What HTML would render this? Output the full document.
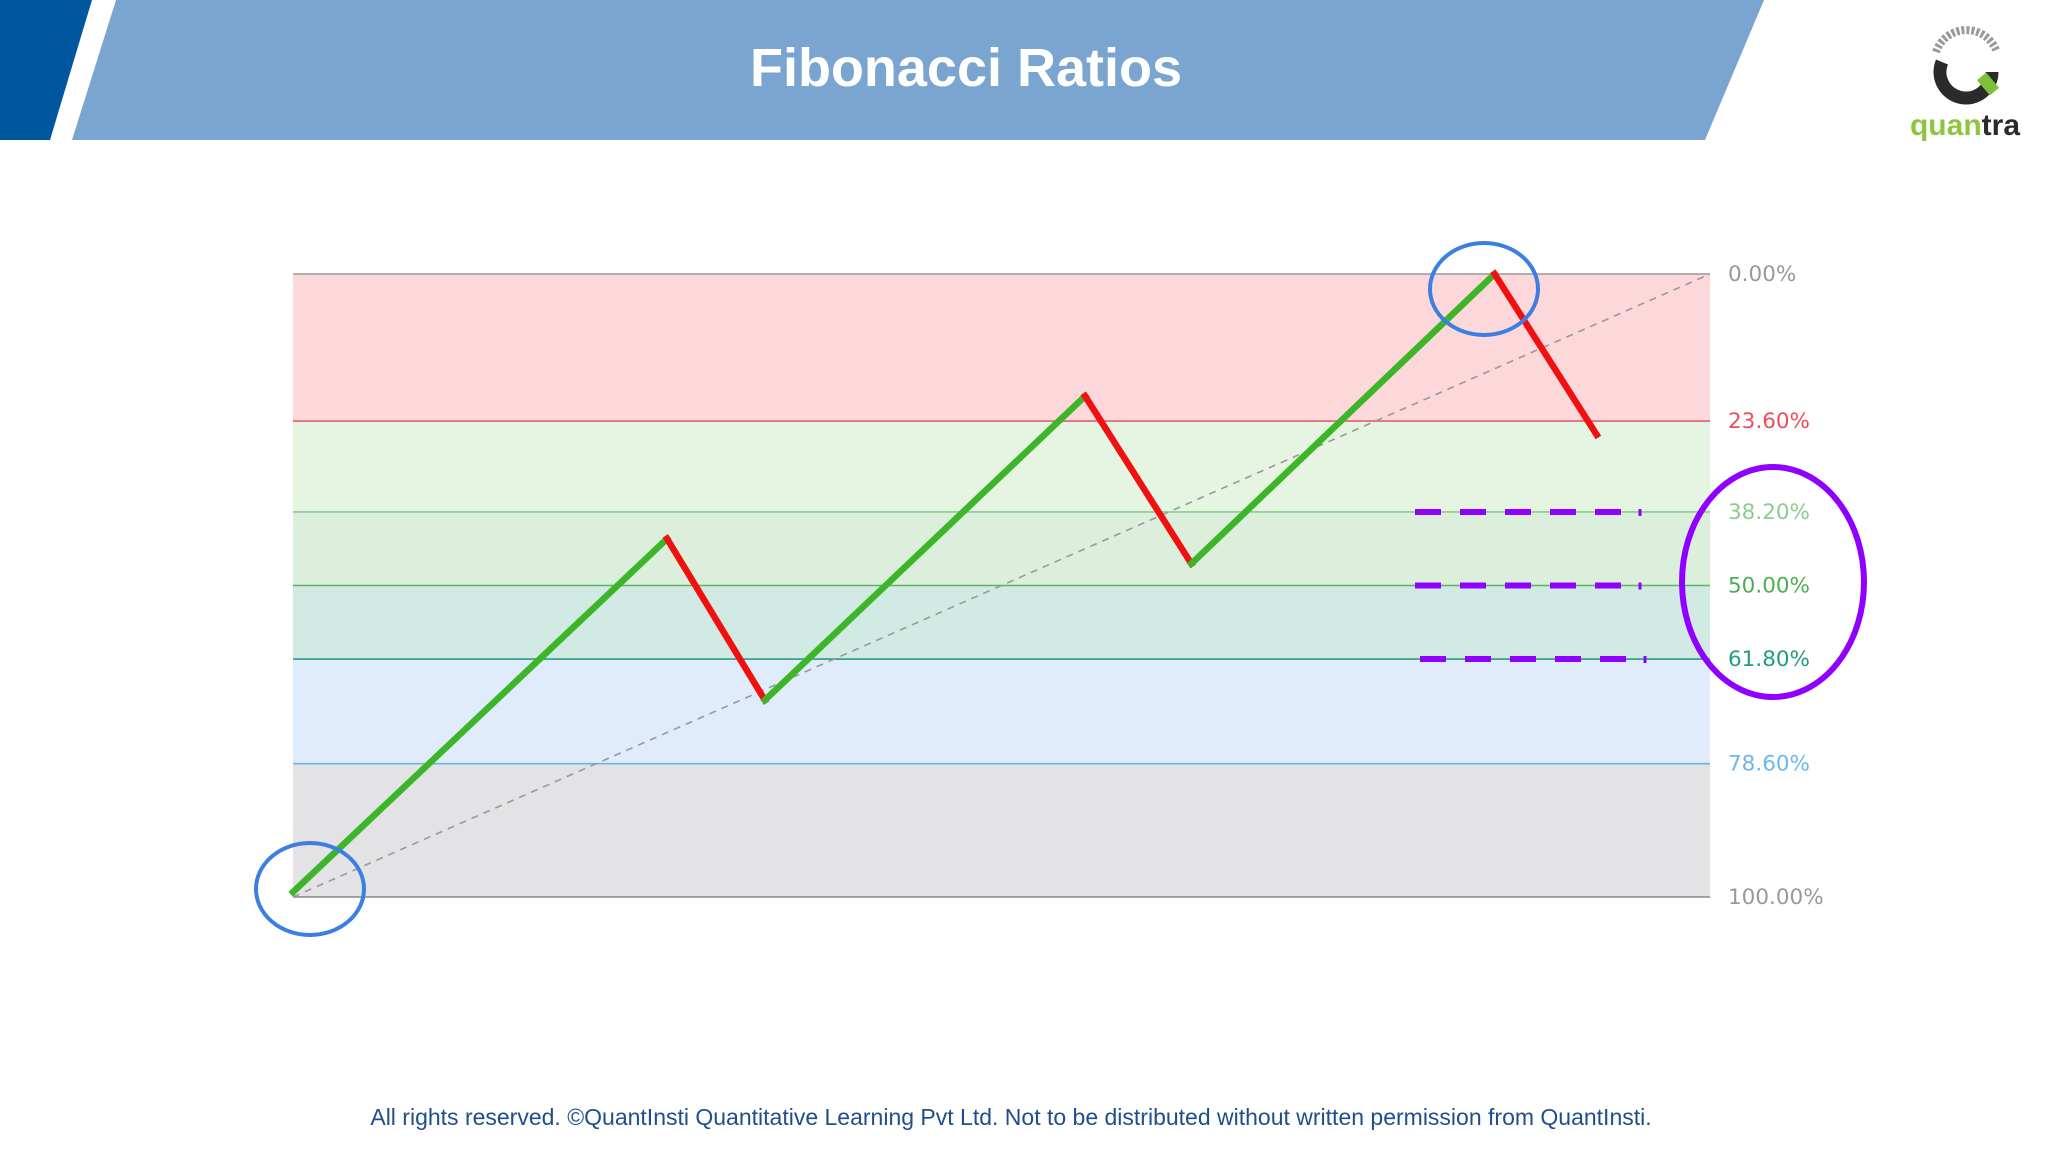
<!DOCTYPE html>
<html><head><meta charset="utf-8"><style>
html,body{margin:0;padding:0;background:#fff;}
body{width:2048px;height:1152px;overflow:hidden;position:relative;font-family:"Liberation Sans",sans-serif;}
</style></head><body>
<svg id="chart" width="2048" height="1152" viewBox="0 0 2048 1152" xmlns="http://www.w3.org/2000/svg">
  <polygon points="0,0 92,0 50,140 0,140" fill="#0057a0"/>
  <polygon points="116,0 1764,0 1705,140 72,140" fill="#7aa5d0"/>
  <text x="966" y="86" text-anchor="middle" font-family="Liberation Sans, sans-serif" font-weight="bold" font-size="54" fill="#fff">Fibonacci Ratios</text>
  <g>
    <path d="M1942,62 A26,26 0 1 0 1992,72" fill="none" stroke="#2b2b2b" stroke-width="13"/>
    <path d="M1936,52 A32,32 0 0 1 1996,50" fill="none" stroke="#999" stroke-width="8" stroke-dasharray="3 2"/>
    <rect x="1982" y="74" width="12" height="20" fill="#7fbf3a" transform="rotate(-40 1988 84)"/>
    <text x="1965" y="135" text-anchor="middle" font-family="Liberation Sans, sans-serif" font-weight="bold" font-size="30" fill="#8cc63f">quan<tspan fill="#2b2b2b">tra</tspan></text>
  </g>
  <g id="bands"></g>
  <g id="levels"></g>
  <g id="labels"></g>
  <line id="trend" stroke="#999" stroke-width="1.6" stroke-dasharray="7 6"/>
  <g id="price"></g>
  <g id="dashes"></g>
  <ellipse cx="310" cy="889" rx="54" ry="46" fill="none" stroke="#3d7fe0" stroke-width="4"/>
  <ellipse cx="1484" cy="289" rx="54" ry="46" fill="none" stroke="#3d7fe0" stroke-width="4"/>
  <ellipse cx="1773" cy="582" rx="91" ry="115" fill="none" stroke="#9000ff" stroke-width="6"/>
  <text x="1011" y="1125" text-anchor="middle" font-family="Liberation Sans, sans-serif" font-size="23" fill="#1f4e8c">All rights reserved. ©QuantInsti Quantitative Learning Pvt Ltd. Not to be distributed without written permission from QuantInsti.</text>
</svg>
<script>
const levelPct = [0, 23.6, 38.2, 50, 61.8, 78.6, 100];
const levelLabels = ["0.00%", "23.60%", "38.20%", "50.00%", "61.80%", "78.60%", "100.00%"];
const levelLineColors = ["#999", "#e06070", "#8fca8f", "#5fb35f", "#2a9d80", "#6ab4e8", "#888"];
const levelTextColors = ["#999", "#f04c5c", "#8fca8f", "#4caf50", "#1e9e80", "#6db6f0", "#999"];
const bandColors = ["#fdd8db", "#e6f4e2", "#dcefdc", "#d1eae3", "#e0ecfb", "#e3e3e6"];
const priceTime = [0, 26.4, 33.3, 55.9, 63.4, 84.8, 92];
const priceValue = [0.8, 57.5, 31.6, 80.4, 53.5, 100, 74.2];
const highlightLevels = [38.2, 50, 61.8];

const X0=293, X1=1710, YT=274, YB=897;
const xs = t => X0 + t*(X1-X0)/100;
const yPct = p => YT + p*(YB-YT)/100;
const yPrice = v => YB - v*(YB-YT)/100;
const NS="http://www.w3.org/2000/svg";
function mk(tag, parent, attrs){const e=document.createElementNS(NS,tag);for(const k in attrs)e.setAttribute(k,attrs[k]);parent.appendChild(e);return e;}

const bands=document.getElementById('bands');
for(let i=0;i<bandColors.length;i++){
  const r=mk('rect',bands,{x:X0,y:yPct(levelPct[i]),width:X1-X0,height:yPct(levelPct[i+1])-yPct(levelPct[i]),fill:bandColors[i]});
  
  
}
const lv=document.getElementById('levels'), lb=document.getElementById('labels');
levelPct.forEach((p,i)=>{
  const l=mk('line',lv,{x1:X0,x2:X1,y1:yPct(p),y2:yPct(p),stroke:levelLineColors[i],'stroke-width':1.6});
  
  
  const t=mk('text',lb,{x:1728,y:yPct(p)+7,'font-size':21.5,fill:levelTextColors[i],'font-family':'DejaVu Sans, sans-serif'});
  t.textContent=levelLabels[i];
  
  
});
const tr=document.getElementById('trend');
tr.setAttribute('x1',X0);tr.setAttribute('y1',YB);tr.setAttribute('x2',X1);tr.setAttribute('y2',YT);

const pg=document.getElementById('price');
for(let i=0;i<priceTime.length-1;i++){
  const up=priceValue[i+1]>priceValue[i];
  const s=mk('line',pg,{x1:xs(priceTime[i]),y1:yPrice(priceValue[i]),x2:xs(priceTime[i+1]),y2:yPrice(priceValue[i+1]),stroke:up?'#3cb628':'#f01010','stroke-width':6.5,'stroke-linecap':'square'});
  
  
}
const dg=document.getElementById('dashes');
highlightLevels.forEach((p,i)=>{
  const off=i===2?5:0;
  const d=mk('line',dg,{x1:1415+off,x2:1640+off,y1:yPct(p),y2:yPct(p),stroke:'#9000ff','stroke-width':6,'stroke-dasharray':'26 19'});
  
  
  const tk=mk('line',dg,{x1:1640+off,x2:1640+off,y1:yPct(p)-3,y2:yPct(p)+4,stroke:'#9000ff','stroke-width':3});
  
  
});
</script>
</body></html>
